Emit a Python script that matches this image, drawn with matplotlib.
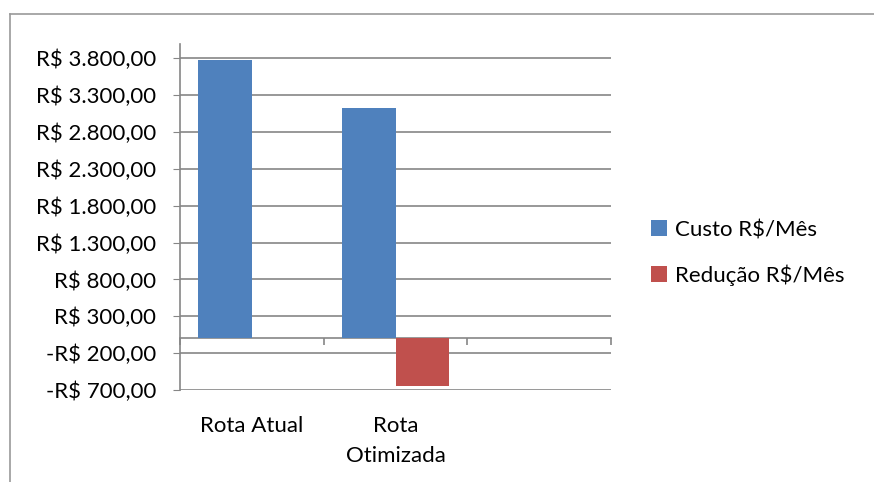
import numpy as np
import matplotlib.pyplot as plt
from matplotlib.ticker import FuncFormatter

# data
categories = ["Rota Atual", "Rota\nOtimizada", ""]
custo = [3780, 3130, np.nan]
reducao = [np.nan, -650, np.nan]
series_names = ["Custo R$/Mês", "Redução R$/Mês"]
y_ticks = np.arange(-700, 3801, 500)

plt.rcParams['font.family'] = ['Lato', 'DejaVu Sans']
grid_color = '#868686'
fs = 16


def brl(v, pos=None):
    s = f"{abs(v):,.2f}".replace(",", "X").replace(".", ",").replace("X", ".")
    return ("-R$ " if v < 0 else "R$ ") + s


fig = plt.figure(figsize=(8.74, 4.82), dpi=100)
ax = fig.add_axes([180 / 874, 1 - 390 / 482, 431 / 874, (390 - 43.6) / 482])

x = np.arange(len(categories))
w = 0.375
ax.bar(x - w / 2, custo, w, color='#4F81BD', label=series_names[0], zorder=3, linewidth=0)
ax.bar(x + w / 2, reducao, w, color='#C0504D', label=series_names[1], zorder=3, linewidth=0)

ymin, ymax = -700, 4000
ax.set_ylim(ymin, ymax)
ax.set_xlim(-0.5, len(categories) - 0.5)
ax.set_yticks(y_ticks)
ax.yaxis.set_major_formatter(FuncFormatter(brl))
ax.tick_params(axis='y', direction='out', length=5, color=grid_color, labelsize=fs, pad=12)
ax.yaxis.grid(True, color=grid_color, linewidth=1.2, zorder=0)

for s in ['top', 'right', 'bottom']:
    ax.spines[s].set_visible(False)
ax.spines['left'].set_color(grid_color)
ax.spines['left'].set_linewidth(1.2)

# category labels below the plot area
ax.set_xticks(x)
ax.set_xticklabels(categories, fontsize=fs, linespacing=1.6)
ax.tick_params(axis='x', length=0, pad=19)

# category axis drawn at zero
sec = ax.secondary_xaxis((0 - ymin) / (ymax - ymin))
sec.set_xticks(np.arange(len(categories) + 1) - 0.5)
sec.set_xticklabels([])
sec.tick_params(axis='x', direction='out', length=5, color=grid_color, width=1.2)
sec.spines['bottom'].set_color(grid_color)
sec.spines['bottom'].set_linewidth(1.2)

leg = fig.legend(loc='center left', bbox_to_anchor=(631 / 874, 1 - 253 / 482),
                 frameon=False, fontsize=fs, handlelength=0.7, handleheight=0.7,
                 handletextpad=0.4, labelspacing=1.1)

# chart area border (left and top only visible in the crop)
fig.add_artist(plt.Line2D([9.5 / 874, 9.5 / 874], [0, 1 - 13.5 / 482], color='#9a9a9a', lw=1.2))
fig.add_artist(plt.Line2D([9.5 / 874, 1], [1 - 13.5 / 482, 1 - 13.5 / 482], color='#9a9a9a', lw=1.2))

fig.savefig("out.png", dpi=100)
